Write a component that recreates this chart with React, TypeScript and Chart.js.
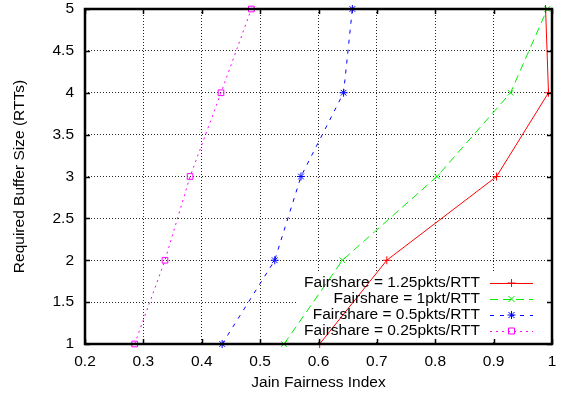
import React, { useEffect, useRef } from "react";
import { Chart, registerables } from "chart.js";

Chart.register(...registerables);

const bufferSizes = [1, 2, 3, 4, 5];
const fairshare125 = [0.602, 0.717, 0.905, 0.994, 0.989];
const fairshare1 = [0.541, 0.641, 0.803, 0.929, 0.992];
const fairshare05 = [0.435, 0.525, 0.57, 0.643, 0.658];
const fairshare025 = [0.285, 0.337, 0.38, 0.433, 0.485];

const seriesLabels = [
  "Fairshare = 1.25pkts/RTT",
  "Fairshare = 1pkt/RTT",
  "Fairshare = 0.5pkts/RTT",
  "Fairshare = 0.25pkts/RTT",
];
const xTickLabels = ["0.2", "0.3", "0.4", "0.5", "0.6", "0.7", "0.8", "0.9", "1"];
const yTickLabels = ["1", "1.5", "2", "2.5", "3", "3.5", "4", "4.5", "5"];

const FONT = "'Liberation Sans', Arial, Helvetica, sans-serif";
const FS = 15.5;

const styles = [
  { color: "#ff0000", dash: [] as number[], point: "cross" },
  { color: "#00ee00", dash: [8, 5], point: "crossRot" },
  { color: "#0000ff", dash: [4, 6], point: "star" },
  { color: "#ff00ff", dash: [2, 4], point: "rect" },
];

function zeroPad(s: any) {
  s.paddingTop = 0;
  s.paddingBottom = 0;
  s.paddingLeft = 0;
  s.paddingRight = 0;
}

export default function App() {
  const ref = useRef<HTMLCanvasElement>(null);
  useEffect(() => {
    const canvas = ref.current;
    if (!canvas) return;
    const series = [fairshare125, fairshare1, fairshare05, fairshare025];

    const legendGeom = (ca: any) => ({
      boxLeft: ca.left + 212,
      boxTop: ca.top + 262,
      boxRight: ca.right - 2,
      boxBottom: ca.bottom - 2,
      textRight: ca.right - 72,
      sampleL: ca.right - 62,
      sampleR: ca.right - 19,
      rows: [ca.bottom - 61, ca.bottom - 45, ca.bottom - 29, ca.bottom - 13],
    });

    const gnuplotPlugin = {
      id: "gnuplotFrame",
      beforeDatasetsDraw(chart: any) {
        const ctx = chart.ctx;
        const g = legendGeom(chart.chartArea);
        ctx.save();
        ctx.fillStyle = "#ffffff";
        ctx.fillRect(g.boxLeft, g.boxTop, g.boxRight - g.boxLeft, g.boxBottom - g.boxTop);
        ctx.restore();
      },
      afterDraw(chart: any) {
        const ctx = chart.ctx;
        const ca = chart.chartArea;
        const xs = chart.scales.x;
        const ys = chart.scales.y;
        ctx.save();
        ctx.strokeStyle = "#000";
        ctx.lineWidth = 1.5;
        ctx.setLineDash([]);
        const tl = 5;
        xs.ticks.forEach((t: any) => {
          const px = Math.round(xs.getPixelForValue(t.value)) + 0.5;
          ctx.beginPath();
          ctx.moveTo(px, ca.bottom);
          ctx.lineTo(px, ca.bottom - tl);
          ctx.moveTo(px, ca.top);
          ctx.lineTo(px, ca.top + tl);
          ctx.stroke();
        });
        ys.ticks.forEach((t: any) => {
          const py = Math.round(ys.getPixelForValue(t.value)) + 0.5;
          ctx.beginPath();
          ctx.moveTo(ca.left, py);
          ctx.lineTo(ca.left + tl, py);
          ctx.moveTo(ca.right, py);
          ctx.lineTo(ca.right - tl, py);
          ctx.stroke();
        });
        ctx.lineWidth = 2.5;
        ctx.strokeRect(ca.left, ca.top, ca.right - ca.left, ca.bottom - ca.top);
        const g = legendGeom(ca);
        ctx.font = `${FS}px ${FONT}`;
        ctx.textAlign = "right";
        ctx.textBaseline = "middle";
        seriesLabels.forEach((lab, i) => {
          const y = g.rows[i];
          const st = styles[i];
          ctx.fillStyle = "#000";
          ctx.fillText(lab, g.textRight, y);
          ctx.strokeStyle = st.color;
          ctx.lineWidth = 1;
          ctx.setLineDash(st.dash);
          ctx.beginPath();
          ctx.moveTo(g.sampleL, y + 0.5);
          ctx.lineTo(g.sampleR, y + 0.5);
          ctx.stroke();
          ctx.setLineDash([]);
          const cx = (g.sampleL + g.sampleR) / 2;
          ctx.beginPath();
          const r = 4;
          if (st.point === "cross") {
            ctx.moveTo(cx - r, y); ctx.lineTo(cx + r, y);
            ctx.moveTo(cx, y - r); ctx.lineTo(cx, y + r);
          } else if (st.point === "crossRot") {
            const d = r * 0.75;
            ctx.moveTo(cx - d, y - d); ctx.lineTo(cx + d, y + d);
            ctx.moveTo(cx + d, y - d); ctx.lineTo(cx - d, y + d);
          } else if (st.point === "star") {
            const d = r * 0.75;
            ctx.moveTo(cx - r, y); ctx.lineTo(cx + r, y);
            ctx.moveTo(cx, y - r); ctx.lineTo(cx, y + r);
            ctx.moveTo(cx - d, y - d); ctx.lineTo(cx + d, y + d);
            ctx.moveTo(cx + d, y - d); ctx.lineTo(cx - d, y + d);
          } else {
            ctx.rect(cx - 3, y - 3, 6, 6);
          }
          ctx.stroke();
        });
        ctx.restore();
      },
    };

    const chart = new Chart(canvas, {
      type: "line",
      data: {
        datasets: series.map((vals, i) => ({
          label: seriesLabels[i],
          data: vals.map((v, k) => ({ x: v, y: bufferSizes[k] })),
          borderColor: styles[i].color,
          backgroundColor: "rgba(0,0,0,0)",
          borderWidth: 1,
          borderDash: styles[i].dash,
          pointStyle: styles[i].point as any,
          pointRadius: 4,
          pointBorderWidth: 1,
          pointBorderColor: styles[i].color,
          pointBackgroundColor: "rgba(0,0,0,0)",
          tension: 0,
          fill: false,
          clip: false as any,
        })),
      },
      options: {
        responsive: false,
        animation: false,
        layout: { padding: { top: 9, right: 9, left: 0, bottom: 0 } },
        plugins: { legend: { display: false }, tooltip: { enabled: false } },
        scales: {
          x: {
            type: "linear",
            min: 0.2,
            max: 1,
            border: { display: false, dash: [1, 2] } as any,
            grid: {
              color: "rgba(0,0,0,0.85)",
              lineWidth: 1,
              drawTicks: false,
            },
            ticks: {
              stepSize: 0.1,
              padding: 8,
              color: "#000",
              font: { family: FONT, size: FS },
              maxRotation: 0,
              autoSkip: false,
              callback: (_v: any, i: number) => xTickLabels[i],
            },
            title: {
              display: true,
              text: "Jain Fairness Index",
              color: "#000",
              font: { family: FONT, size: FS },
              padding: { top: 0, bottom: 4.7 },
            },
            afterFit: (s: any) => { s.height = 53; zeroPad(s); },
          },
          y: {
            type: "linear",
            min: 1,
            max: 5,
            border: { display: false, dash: [1, 2] } as any,
            grid: {
              color: "rgba(0,0,0,0.85)",
              lineWidth: 1,
              drawTicks: false,
            },
            ticks: {
              stepSize: 0.5,
              padding: 11,
              color: "#000",
              font: { family: FONT, size: FS },
              autoSkip: false,
              callback: (_v: any, i: number) => yTickLabels[i],
            },
            title: {
              display: true,
              text: "Required Buffer Size (RTTs)",
              color: "#000",
              font: { family: FONT, size: FS },
              padding: { top: 10.7, bottom: 0 },
            },
            afterFit: (s: any) => { s.width = 85; zeroPad(s); },
          },
        },
      },
      plugins: [gnuplotPlugin],
    });
    return () => chart.destroy();
  }, []);
  return (
    <div style={{ position: "absolute", left: 0, top: 0, width: 561, height: 397, background: "#fff" }}>
      <canvas ref={ref} width={561} height={397} style={{ display: "block" }} />
    </div>
  );
}
